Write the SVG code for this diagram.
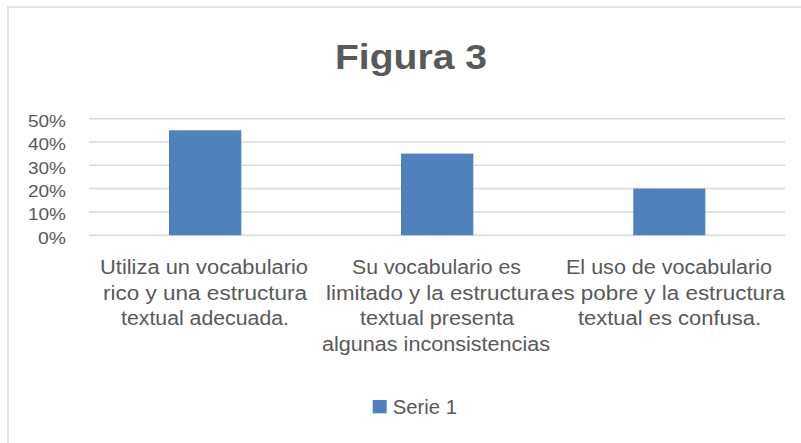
<svg xmlns="http://www.w3.org/2000/svg" width="801" height="443" viewBox="0 0 801 443">
<style>
.t{font-family:"Liberation Sans",Arial,sans-serif;fill:#595959}
.ax{font-size:17px;text-anchor:end}
.cat{font-size:19.5px;text-anchor:middle}
.grid{stroke:#d9d9d9;stroke-width:1.5}
.bar{fill:#4f81bd}
</style>
<rect x="0" y="0" width="801" height="443" fill="#ffffff"/>
<g id="frame"><path d="M8 443 V7 H801" fill="none" stroke="#d9d9d9" stroke-width="1.5"/></g>
<g id="title"><text class="t" x="411" y="68.5" font-size="35" font-weight="bold" text-anchor="middle" textLength="152" lengthAdjust="spacingAndGlyphs">Figura 3</text></g>
<g id="gridlines">
<line class="grid" x1="89" y1="118.7" x2="785" y2="118.7"/>
<line class="grid" x1="89" y1="142" x2="785" y2="142"/>
<line class="grid" x1="89" y1="165.3" x2="785" y2="165.3"/>
<line class="grid" x1="89" y1="188.6" x2="785" y2="188.6"/>
<line class="grid" x1="89" y1="211.9" x2="785" y2="211.9"/>
<line class="grid" x1="89" y1="235.2" x2="785" y2="235.2"/>
</g>
<g id="yaxis">
<text class="t ax" x="66" y="127" textLength="38" lengthAdjust="spacingAndGlyphs">50%</text>
<text class="t ax" x="66" y="150.3" textLength="38" lengthAdjust="spacingAndGlyphs">40%</text>
<text class="t ax" x="66" y="173.6" textLength="38" lengthAdjust="spacingAndGlyphs">30%</text>
<text class="t ax" x="66" y="196.9" textLength="38" lengthAdjust="spacingAndGlyphs">20%</text>
<text class="t ax" x="66" y="220.2" textLength="38" lengthAdjust="spacingAndGlyphs">10%</text>
<text class="t ax" x="66" y="243.5" textLength="28" lengthAdjust="spacingAndGlyphs">0%</text>
</g>
<g id="bars">
<rect id="bar1" class="bar" x="169" y="130.3" width="72.3" height="104.9"/>
<rect id="bar2" class="bar" x="401" y="153.6" width="72.3" height="81.6"/>
<rect id="bar3" class="bar" x="633.3" y="188.6" width="72" height="46.6"/>
</g>
<g id="cat1">
<text class="t cat" x="204" y="274" textLength="208" lengthAdjust="spacingAndGlyphs">Utiliza un vocabulario</text>
<text class="t cat" x="205" y="299.5" textLength="204" lengthAdjust="spacingAndGlyphs">rico y una estructura</text>
<text class="t cat" x="205" y="325" textLength="168" lengthAdjust="spacingAndGlyphs">textual adecuada.</text>
</g>
<g id="cat2">
<text class="t cat" x="436.5" y="274" textLength="169" lengthAdjust="spacingAndGlyphs">Su vocabulario es</text>
<text class="t cat" x="437.5" y="299.5" textLength="223" lengthAdjust="spacingAndGlyphs">limitado y la estructura</text>
<text class="t cat" x="437" y="325" textLength="154" lengthAdjust="spacingAndGlyphs">textual presenta</text>
<text class="t cat" x="436" y="350.5" textLength="228" lengthAdjust="spacingAndGlyphs">algunas inconsistencias</text>
</g>
<g id="cat3">
<text class="t cat" x="669" y="274" textLength="206" lengthAdjust="spacingAndGlyphs">El uso de vocabulario</text>
<text class="t cat" x="668" y="299.5" textLength="234" lengthAdjust="spacingAndGlyphs">es pobre y la estructura</text>
<text class="t cat" x="669.5" y="325" textLength="183" lengthAdjust="spacingAndGlyphs">textual es confusa.</text>
</g>
<g id="legend">
<rect class="bar" x="372.7" y="400" width="14" height="13.3"/>
<text class="t" x="392.7" y="414.3" font-size="19.5" textLength="64.3" lengthAdjust="spacingAndGlyphs">Serie 1</text>
</g>
</svg>
